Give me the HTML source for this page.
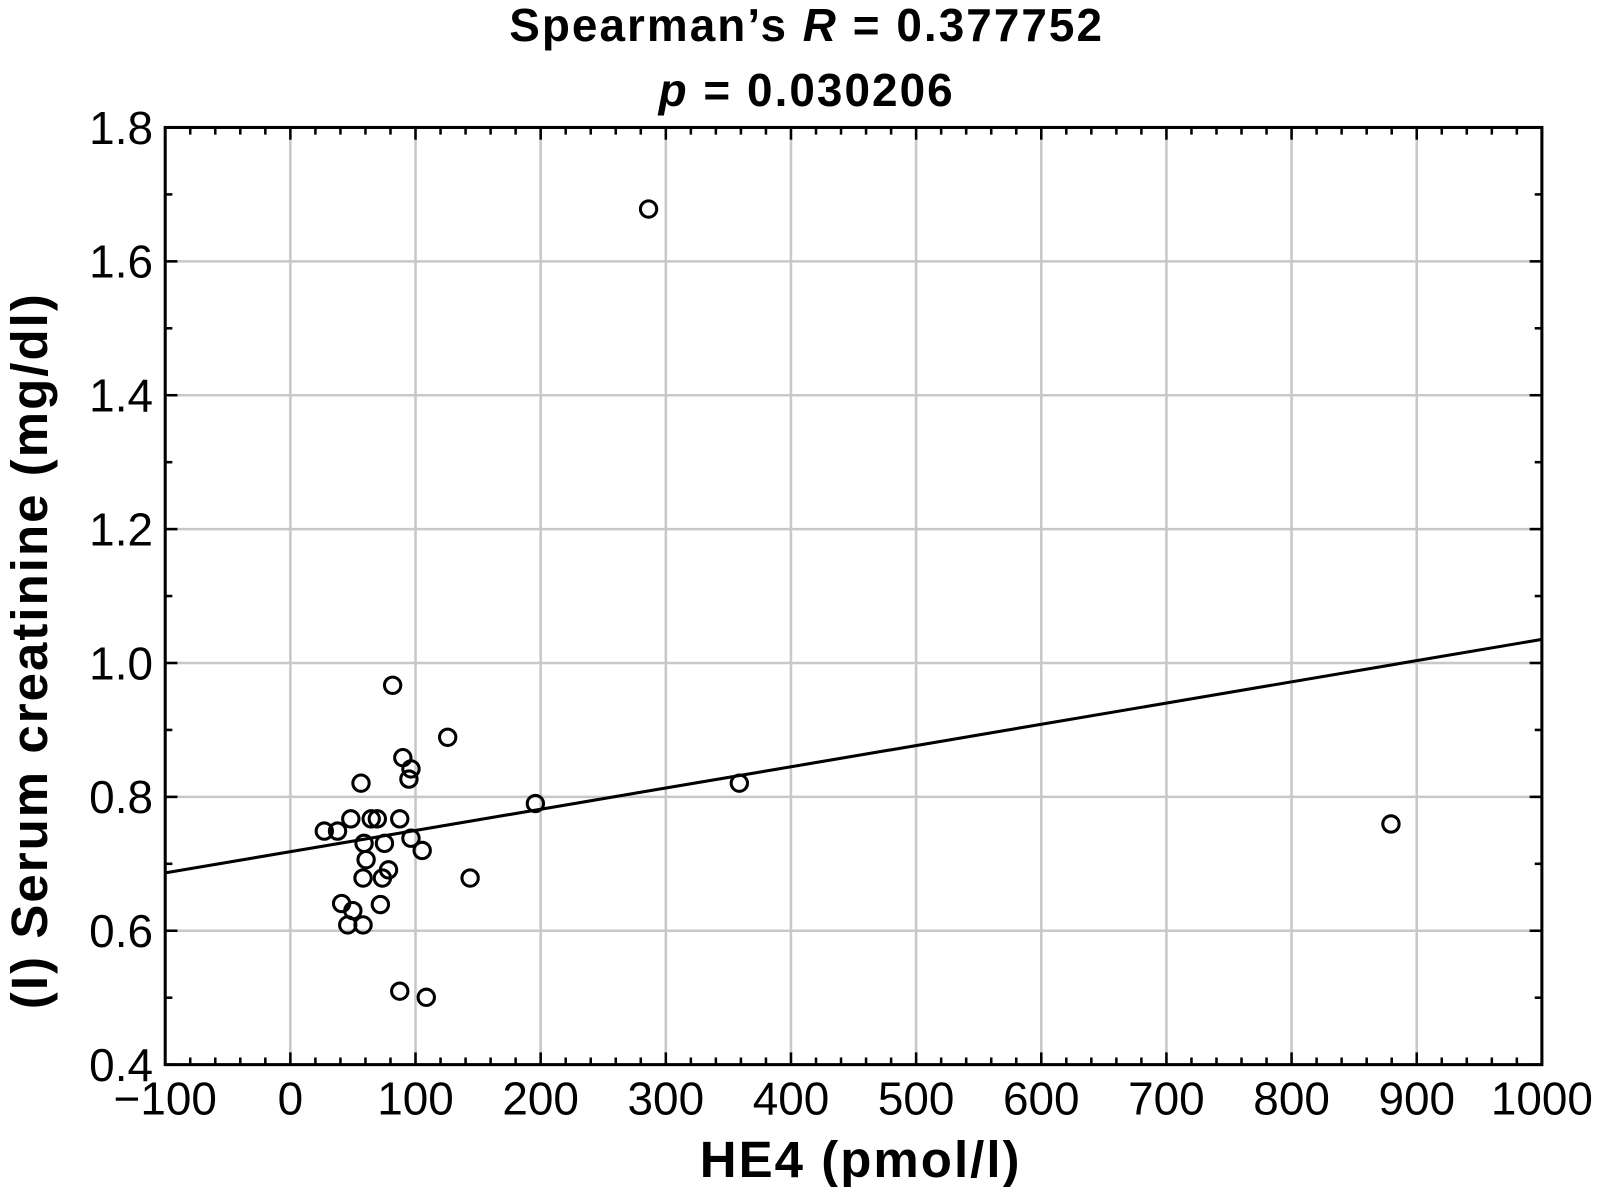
<!DOCTYPE html>
<html><head><style>html,body{margin:0;padding:0;background:#fff}svg{display:block}</style></head>
<body>
<svg width="1599" height="1187" viewBox="0 0 1568 1164" xmlns="http://www.w3.org/2000/svg" font-family="Liberation Sans, DejaVu Sans, sans-serif">
<rect width="1568" height="1164" fill="#fff"/>
<g id="grid" stroke="#c8c8c8" stroke-width="2.5"></g>
<g id="ticks" stroke="#000" stroke-width="2.5"></g>
<line x1="162" y1="856" x2="1512" y2="627" stroke="#000" stroke-width="3"/>
<g id="pts" fill="none" stroke="#000" stroke-width="3"></g>
<rect x="162" y="125" width="1350" height="919" fill="none" stroke="#000" stroke-width="3"/>
<g id="lbl" font-size="45" fill="#000"></g>
<text x="791" y="40" font-size="45" text-anchor="middle" font-weight="bold" letter-spacing="2">Spearman’s <tspan font-style="italic">R</tspan> = 0.377752</text>
<text x="791" y="104" font-size="45" text-anchor="middle" font-weight="bold" letter-spacing="2"><tspan font-style="italic">p</tspan> = 0.030206</text>
<text x="844" y="1154" font-size="50" text-anchor="middle" font-weight="bold" letter-spacing="2">HE4 (pmol/l)</text>
<text transform="translate(46,638) rotate(-90)" font-size="50" text-anchor="middle" font-weight="bold" letter-spacing="2">(I) Serum creatinine (mg/dl)</text>
<script>
const ns="http://www.w3.org/2000/svg";
function el(p,t,a,txt){const e=document.createElementNS(ns,t);for(const k in a)e.setAttribute(k,a[k]);if(txt!==undefined)e.textContent=txt;document.getElementById(p).appendChild(e);}
const L=162,R=1512,T=125,B=1044;
const X=v=>L+(v+100)*(R-L)/1100, Y=v=>B-(v-0.4)*(B-T)/1.4;
for(let v=0;v<1000;v+=100)el('grid','line',{x1:X(v),x2:X(v),y1:T,y2:B});
for(let v=0.6;v<1.79;v+=0.2)el('grid','line',{x1:L,x2:R,y1:Y(v),y2:Y(v)});
for(let v=-100;v<=1000;v+=20){const m=(Math.round(v)%100===0),l=m?12:7;
 el('ticks','line',{x1:X(v),x2:X(v),y1:B,y2:B-l});el('ticks','line',{x1:X(v),x2:X(v),y1:T,y2:T+l});}
for(let i=0;i<=14;i++){const v=0.4+i*0.1,m=i%2===0,l=m?12:7;
 el('ticks','line',{x1:L,x2:L+l,y1:Y(v),y2:Y(v)});el('ticks','line',{x1:R,x2:R-l,y1:Y(v),y2:Y(v)});}
for(let v=-100;v<=1000;v+=100)el('lbl','text',{x:X(v),y:1093,'text-anchor':'middle'},v<0?'\u2212100':String(v));
for(let i=0;i<=7;i++){const v=0.4+i*0.2;el('lbl','text',{x:150,y:Y(v)+16,'text-anchor':'end'},v.toFixed(1));}
const P=[[636,205],[385,672],[439,723],[395,743],[403,754],[401,764],[354,768],[725,768],[525,788],[1364,808],[318,815],[331,815],[344,803],[364,803],[370,803],[392,803],[357,827],[377,827],[403,822],[414,834],[359,843],[381,853],[356,861],[375,861],[461,861],[335,886],[373,887],[346,893],[341,907],[356,907],[392,972],[418,978]];
P.forEach(p=>el('pts','circle',{cx:p[0],cy:p[1],r:8}));
</script>
</svg>
</body></html>
